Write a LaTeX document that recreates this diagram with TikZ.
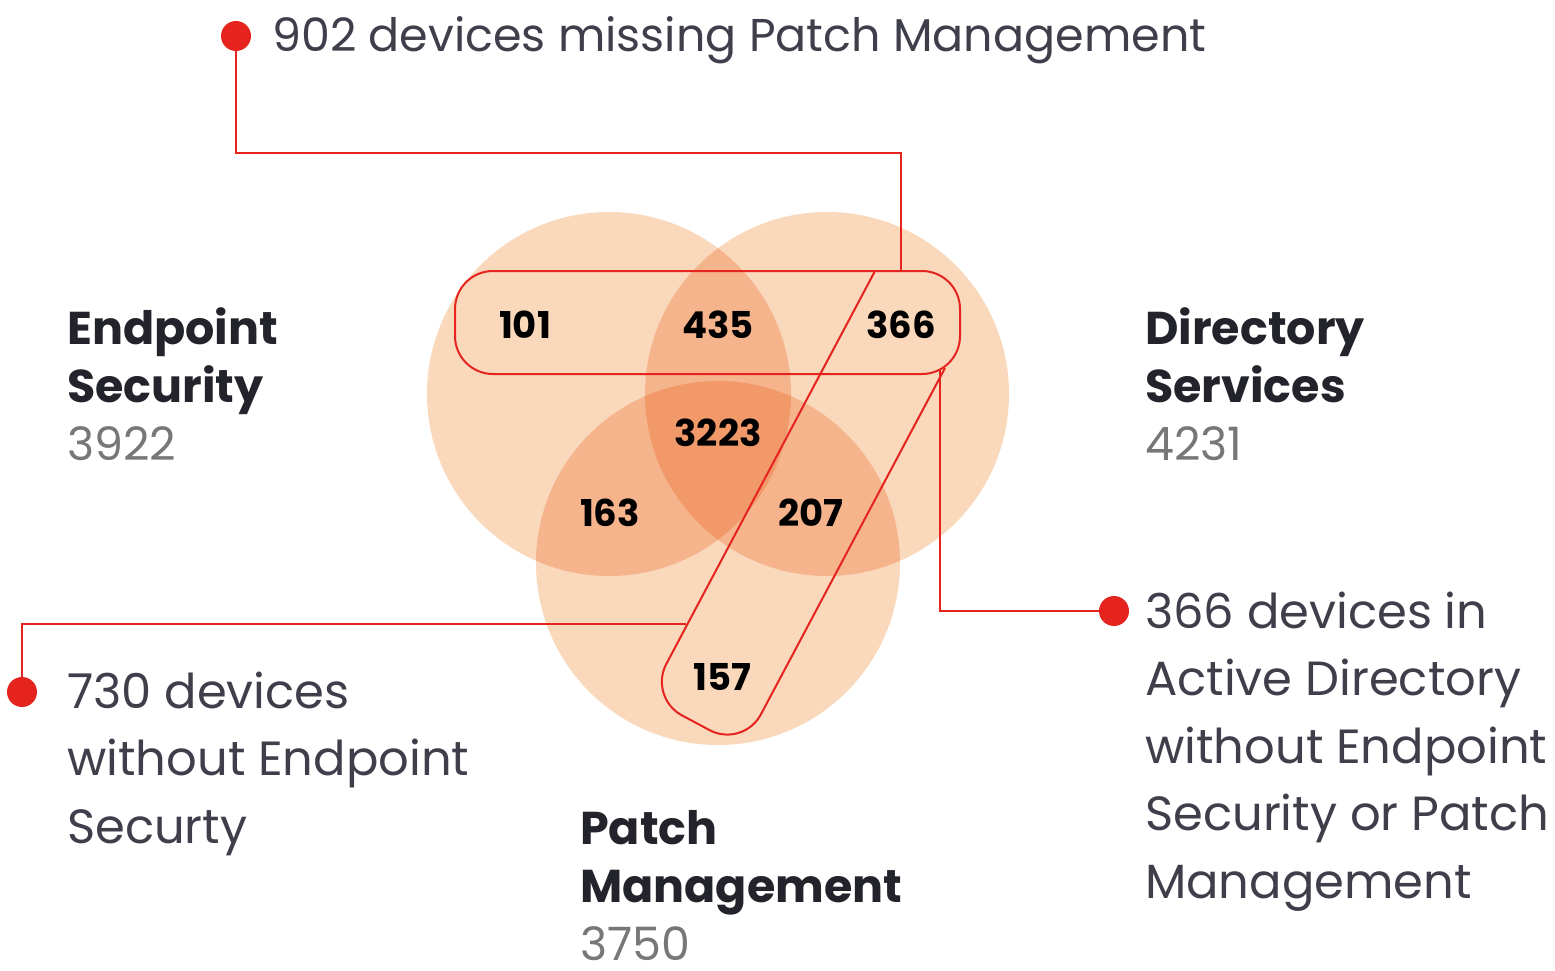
\documentclass[tikz,border=0pt]{standalone}
\usepackage{fontspec}
\setmainfont{Poppins}
\definecolor{vennone}{HTML}{F9D8BB}
\definecolor{venntwo}{HTML}{F6B48D}
\definecolor{vennthree}{HTML}{F2996A}
\definecolor{markred}{HTML}{E5231F}
\definecolor{textgrey}{HTML}{3E3F4B}
\definecolor{headgrey}{HTML}{22232B}
\definecolor{countgrey}{HTML}{77777A}
\tikzset{
  link/.style={markred, line width=2pt},
  dot/.style={circle, fill=markred, inner sep=0pt, minimum size=30pt},
  count/.style={font=\fontsize{37}{40}\selectfont\bfseries, text=black},
  setlabel/.style={anchor=base west, align=left, inner sep=0pt,
    font=\fontsize{46}{58}\selectfont, text=headgrey},
  note/.style={anchor=base west, align=left, inner sep=0pt,
    font=\fontsize{48}{67.5}\selectfont, text=textgrey}
}
\begin{document}
\begin{tikzpicture}[x=1pt, y=-1pt]
    \useasboundingbox (0,0) rectangle (1555,971);

    % circle centres
    \coordinate (es) at (609,394);
    \coordinate (ds) at (827,394);
    \coordinate (pm) at (718,563);

    \foreach \c in {es,ds,pm}
        \fill[vennone] (\c) circle (182);
    \begin{scope}
        \clip (es) circle (182);
        \fill[venntwo] (ds) circle (182);
        \fill[venntwo] (pm) circle (182);
    \end{scope}
    \begin{scope}
        \clip (ds) circle (182);
        \fill[venntwo] (pm) circle (182);
    \end{scope}
    \begin{scope}
        \clip (es) circle (182);
        \clip (ds) circle (182);
        \fill[vennthree] (pm) circle (182);
    \end{scope}

    % outlines of the two groups
    \draw[link, rounded corners=38] (455,271) rectangle (960,374);
    \draw[link, rounded corners=38] (875,271) -- (648.5,697.5) -- (743,748) -- (945,368);

    % region counts
    \node[count] (n101) at (525,325) {101};
    \node[count] (n435) at (718,325) {435};
    \node[count] (n366) at (901,325) {366};
    \node[count] (n3223) at (718,433) {3223};
    \node[count] (n163) at (610,513) {163};
    \node[count] (n207) at (811,513) {207};
    \node[count] (n157) at (722,677) {157};

    % set names (base = last line)
    \node[setlabel] (lblES) at (67,460) {\textbf{Endpoint}\\\textbf{Security}\\\textcolor{countgrey}{3922}};
    \node[setlabel] (lblDS) at (1145,460) {\textbf{Directory}\\\textbf{Services}\\\textcolor{countgrey}{4231}};
    \node[setlabel] (lblPM) at (580,960) {\textbf{Patch}\\\textbf{Management}\\\textcolor{countgrey}{3750}};

    % call-outs
    \node[dot] (dotTop) at (236,36) {};
    \node[dot] (dotLeft) at (22,692) {};
    \node[dot] (dotRight) at (1114,611) {};
    \node[note, font=\fontsize{46}{58}\selectfont] (noteTop) at (272,52) {902 devices missing Patch Management};
    \node[note] (noteLeft) at (67,843) {730 devices\\without Endpoint\\Securty};
    \node[note] (noteRight) at (1145,898) {366 devices in\\Active Directory\\without Endpoint\\Security or Patch\\Management};

    \coordinate (topEnd) at (901,271);
    \coordinate (leftEnd) at (686,624);
    \coordinate (rightEnd) at (940,369);
    \draw[link] (dotTop.center) -- (236,153) -| (topEnd);
    \draw[link] (dotLeft.center) |- (leftEnd);
    \draw[link] (dotRight.center) -| (rightEnd);
\end{tikzpicture}
\end{document}
